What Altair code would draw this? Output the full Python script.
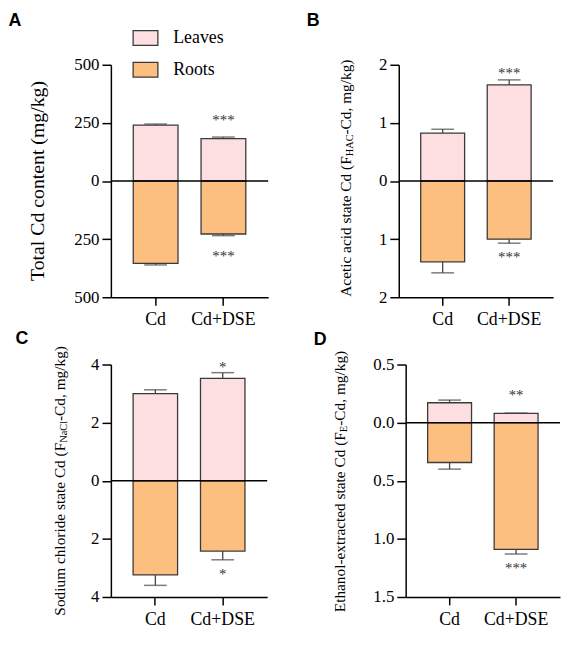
import altair as alt
import pandas as pd

# ---------------- data ----------------
groups = ["Cd", "Cd+DSE"]
parts = ["Leaves", "Roots"]

# Panel A: Total Cd content (mg/kg)
A_leaves = [240, 182]
A_leaves_sd = [5, 7]
A_roots = [354, 228]
A_roots_sd = [7, 7]
A_star_leaves = ["", "***"]
A_star_roots = ["", "***"]

# Panel B: Acetic acid state Cd
B_leaves = [0.825, 1.655]
B_leaves_sd = [0.065, 0.085]
B_roots = [1.39, 1.0]
B_roots_sd = [0.19, 0.07]
B_star_leaves = ["", "***"]
B_star_roots = ["", "***"]

# Panel C: Sodium chloride state Cd
C_leaves = [3.0, 3.52]
C_leaves_sd = [0.13, 0.2]
C_roots = [3.24, 2.42]
C_roots_sd = [0.36, 0.30]
C_star_leaves = ["", "*"]
C_star_roots = ["", "*"]

# Panel D: Ethanol-extracted state Cd
D_leaves = [0.171, 0.079]
D_leaves_sd = [0.023, 0.003]
D_roots = [0.343, 1.09]
D_roots_sd = [0.057, 0.04]
D_star_leaves = ["", "**"]
D_star_roots = ["", "***"]

# ---------------- style ----------------
SERIF = "Liberation Serif"
SANS = "Liberation Sans"
PINK = "#FDDEE1"
ORANGE = "#FDBF80"
EDGE = "#3a3a3a"
H = 235


def make_df(leaves, leaves_sd, roots, roots_sd, st_l, st_r):
    rows = []
    for i, g in enumerate(groups):
        rows.append(dict(group=g, part="Leaves", value=leaves[i],
                         err=leaves[i] + leaves_sd[i], star=st_l[i]))
        rows.append(dict(group=g, part="Roots", value=-roots[i],
                         err=-(roots[i] + roots_sd[i]), star=st_r[i]))
    return pd.DataFrame(rows)


one = pd.DataFrame({"a": [0]})


def panel(df, letter, letter_xy, domain, ticks, fmt, W, title_parts,
          title_x, title_dp, star_dy, legend=None):
    xaxis = alt.Axis(title=None, labelAngle=0, tickSize=8, labelPadding=6,
                     labelFont=SERIF, labelFontSize=18, labelColor="black",
                     domainColor="black", domainWidth=1.5, tickColor="black", tickWidth=1.5)
    xscale = alt.Scale(domain=groups, paddingInner=0.34, paddingOuter=0.33)
    yaxis = alt.Axis(values=ticks, labelExpr=f"format(abs(datum.value), '{fmt}')",
                     title=None, tickSize=9, labelPadding=3, grid=False,
                     labelFont=SERIF, labelFontSize=17, labelColor="black",
                     domainColor="black", domainWidth=1.5, tickColor="black", tickWidth=1.5)
    yscale = alt.Scale(domain=domain, nice=False, zero=False)

    def X():
        return alt.X("group:N", sort=groups, scale=xscale, axis=xaxis)

    def Y(field):
        return alt.Y(field, scale=yscale, axis=yaxis)

    base = alt.Chart(df)
    bars = base.mark_bar(stroke=EDGE, strokeWidth=1.3).encode(
        x=X(), y=Y("value:Q"), y2=alt.datum(0),
        color=alt.Color("part:N", scale=alt.Scale(domain=parts, range=[PINK, ORANGE]),
                        legend=legend))
    zero = alt.Chart(one).mark_rule(color="black", strokeWidth=1.5).encode(y=alt.datum(0))
    err = base.mark_rule(color="#444444", strokeWidth=1.3).encode(
        x=X(), y=Y("value:Q"), y2="err:Q")
    caps = base.mark_tick(color="#444444", thickness=1.5, size=23).encode(
        x=X(), y=Y("err:Q"))
    st_up = base.transform_filter("datum.part == 'Leaves'").mark_text(
        font=SERIF, fontSize=15, baseline="middle", dy=star_dy[0], color="#333333").encode(
        x=X(), y=Y("err:Q"), text="star:N")
    st_dn = base.transform_filter("datum.part == 'Roots'").mark_text(
        font=SERIF, fontSize=15, baseline="middle", dy=star_dy[1], color="#333333").encode(
        x=X(), y=Y("err:Q"), text="star:N")

    layers = [bars, zero, err, caps, st_up, st_dn]

    if len(title_parts) == 1:
        layers.append(alt.Chart(one).mark_text(
            angle=270, font=SERIF, fontSize=20, align="center", baseline="middle",
            color="black").encode(x=alt.value(title_x), y=alt.value(H / 2),
                                  text=alt.value(title_parts[0])))
    else:
        p1, p2, p3, w2 = title_parts
        title_p = H / 2 + title_dp
        layers.append(alt.Chart(one).mark_text(
            angle=270, font=SERIF, fontSize=15.5, align="right", baseline="middle",
            color="black").encode(x=alt.value(title_x), y=alt.value(title_p),
                                  text=alt.value(p1)))
        layers.append(alt.Chart(one).mark_text(
            angle=270, font=SERIF, fontSize=10.5, align="left", baseline="middle",
            dy=4, color="black").encode(x=alt.value(title_x), y=alt.value(title_p),
                                        text=alt.value(p2)))
        layers.append(alt.Chart(one).mark_text(
            angle=270, font=SERIF, fontSize=15.5, align="left", baseline="middle",
            dx=w2, color="black").encode(x=alt.value(title_x), y=alt.value(title_p),
                                         text=alt.value(p3)))

    layers.append(alt.Chart(one).mark_text(
        font=SANS, fontWeight="bold", fontSize=18, align="left", baseline="alphabetic",
        color="black").encode(x=alt.value(letter_xy[0]), y=alt.value(letter_xy[1]),
                              text=alt.value(letter)))

    return alt.layer(*layers).properties(width=W, height=H)


legendA = alt.Legend(
    orient="none", legendX=26, legendY=-36, title=None,
    symbolType="M-1.667,-1H1.667V1H-1.667Z", symbolSize=225,
    symbolStrokeColor=EDGE, symbolStrokeWidth=1.3, symbolOpacity=1,
    labelFont=SERIF, labelFontSize=18, labelColor="black", labelOffset=19,
    rowPadding=10, padding=0)

pA = panel(make_df(A_leaves, A_leaves_sd, A_roots, A_roots_sd, A_star_leaves, A_star_roots),
           "A", (-103.5, -39.5), [-500, 500], [-500, -250, 0, 250, 500], "d", 159,
           ["Total Cd content (mg/kg)"], -74, 0, (-17.5, 20.5), legend=legendA)
pB = panel(make_df(B_leaves, B_leaves_sd, B_roots, B_roots_sd, B_star_leaves, B_star_roots),
           "B", (-93, -39.5), [-2, 2], [-2, -1, 0, 1, 2], "d", 156,
           ["Acetic acid state Cd (F", "HAC", "-Cd, mg/kg)", 22], -53, -25, (-6.5, 14.5))
pC = panel(make_df(C_leaves, C_leaves_sd, C_roots, C_roots_sd, C_star_leaves, C_star_roots),
           "C", (-96.5, -21), [-4, 4], [-4, -2, 0, 2, 4], "d", 158,
           ["Sodium chloride state Cd (F", "NaCl", "-Cd, mg/kg)", 22], -51, -38.4, (-5.5, 14.5))
pD = panel(make_df(D_leaves, D_leaves_sd, D_roots, D_roots_sd, D_star_leaves, D_star_roots),
           "D", (-93, -19.5), [-1.5, 0.5], [-1.5, -1.0, -0.5, 0, 0.5], ".1f", 156,
           ["Ethanol-extracted state Cd (F", "E", "-Cd, mg/kg)", 6.5], -66, -49.1, (-18.5, 14.5))

row1 = alt.hconcat(pA, pB, spacing=38).resolve_scale(color="independent")
row2 = alt.hconcat(pC, pD, spacing=46).resolve_scale(color="independent")

chart = alt.vconcat(row1, row2, spacing=1).resolve_scale(color="independent").properties(
    padding={"left": 0, "top": 0, "right": 0, "bottom": 0},
    background="white",
).configure_view(stroke=None).configure_axis(
    labelFont=SERIF, labelFontSize=17, labelColor="black", grid=False,
    domainColor="black", domainWidth=1.5, tickColor="black", tickWidth=1.5,
)

chart.save("out.html", embed_options={"renderer": "svg", "actions": False})
